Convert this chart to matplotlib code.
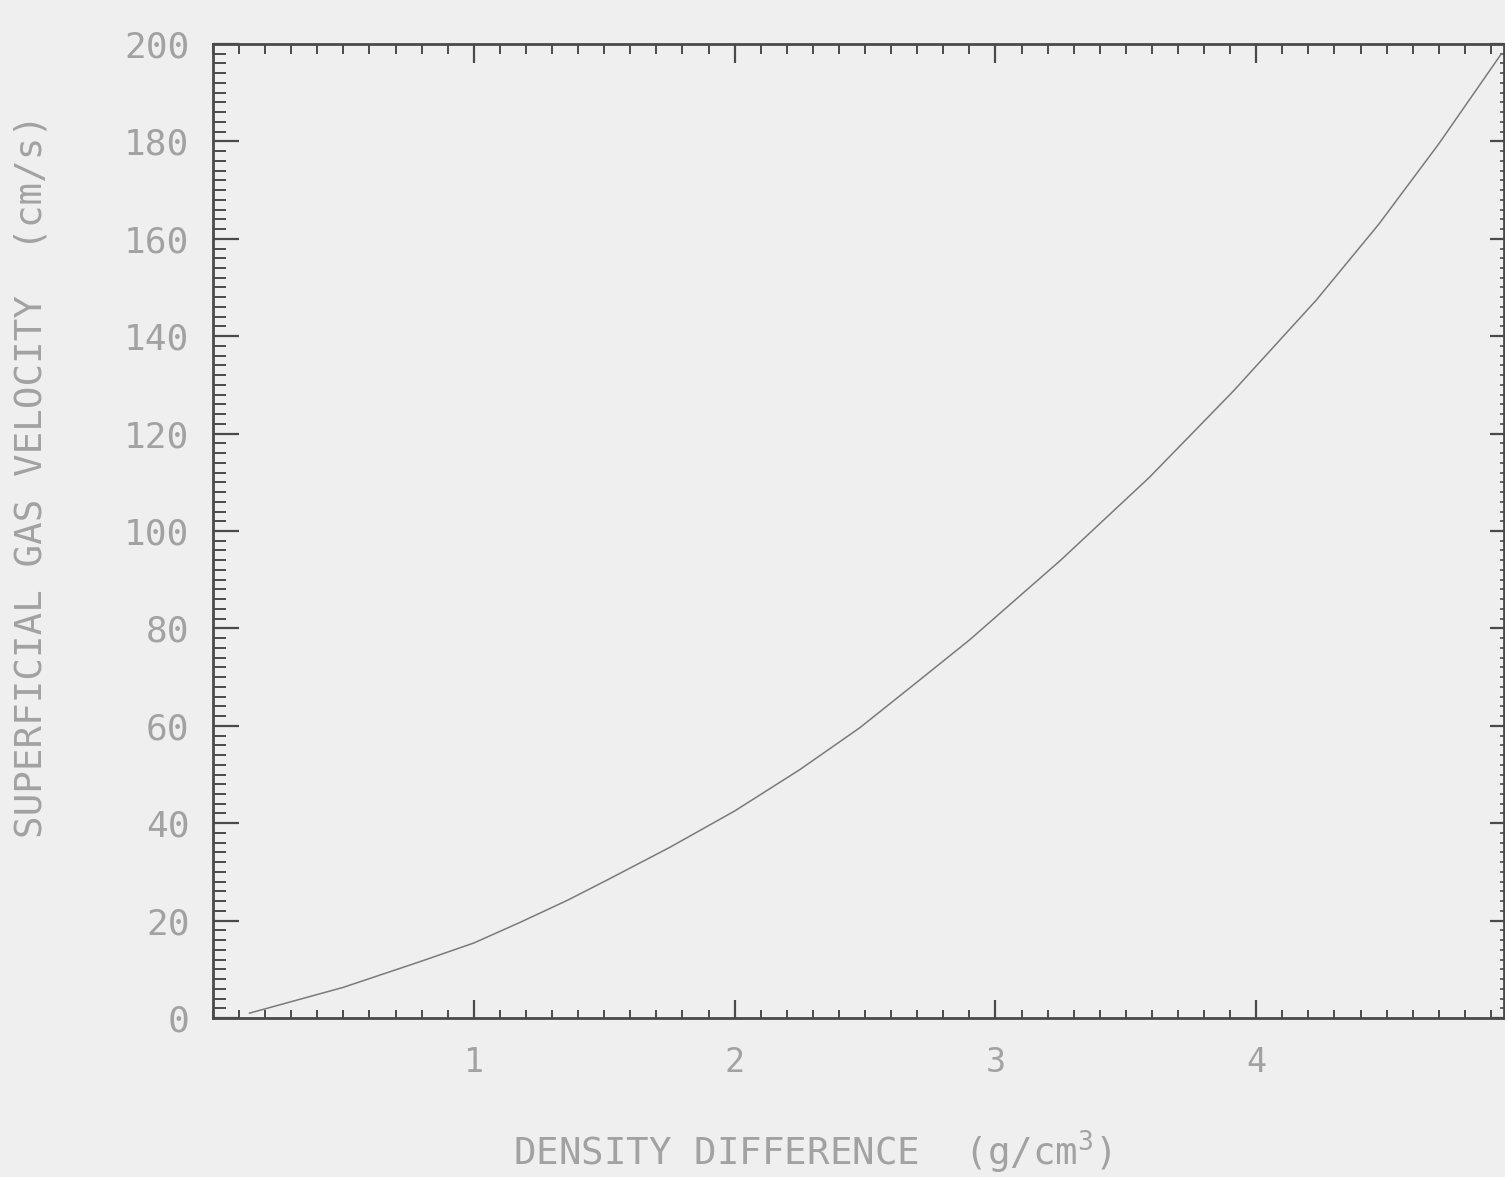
import numpy as np
import matplotlib.pyplot as plt
from matplotlib.ticker import MultipleLocator

# curve
density_diff = [0.14, 0.5, 0.79, 1.0, 1.18, 1.36, 1.51, 1.75, 2.0, 2.25, 2.48, 2.7, 2.9, 3.25,
                3.59, 3.91, 4.23, 4.47, 4.7, 4.94]
gas_velocity = [1.0, 6.3, 11.5, 15.4, 19.7, 24.2, 28.3, 35.0, 42.5, 51.0, 59.6, 69.0, 77.6, 94.0,
                111.0, 128.6, 147.4, 163.0, 179.5, 198.0]

x_ticks = [1, 2, 3, 4]
y_ticks = [0, 20, 40, 60, 80, 100, 120, 140, 160, 180, 200]

bg = '#efefef'
ink = '#4a4a4a'
txt = '#a2a2a2'

plt.rcParams['font.family'] = 'DejaVu Sans Mono'
plt.rcParams['mathtext.fontset'] = 'custom'
plt.rcParams['mathtext.rm'] = 'DejaVu Sans Mono'
plt.rcParams['mathtext.it'] = 'DejaVu Sans Mono'

fig = plt.figure(figsize=(15.05, 11.77), dpi=100, facecolor=bg)
ax = fig.add_axes([213 / 1505, 1 - 1018 / 1177, (1504 - 213) / 1505, (1018 - 44) / 1177])
ax.set_facecolor(bg)

ax.plot(density_diff, gas_velocity, color='#7a7a7a', lw=1.1)

ax.set_xlim(0, 4.95)
ax.set_ylim(0, 200)

for s in ax.spines.values():
    s.set_color(ink)
    s.set_linewidth(2.0)

ax.set_xticks(x_ticks)
ax.set_xticklabels([str(v) for v in x_ticks])
ax.xaxis.set_minor_locator(MultipleLocator(0.1))
ax.set_yticks(y_ticks)
ax.set_yticklabels([str(v) for v in y_ticks])
ax.yaxis.set_minor_locator(MultipleLocator(2))

ax.tick_params(axis='x', which='major', direction='in', length=13, width=1.6, color=ink,
               labelsize=24, labelcolor=txt, pad=20)
ax.tick_params(axis='x', which='minor', direction='in', length=5.5, width=1.4, color=ink)
ax.tick_params(axis='y', which='major', direction='in', length=19, width=1.6, color=ink,
               labelsize=26, labelcolor=txt, pad=17)
ax.tick_params(axis='y', which='minor', direction='in', length=9, width=1.4, color=ink)

# top and right ticks, shorter
top = ax.secondary_xaxis('top')
top.set_xticks(x_ticks)
top.xaxis.set_minor_locator(MultipleLocator(0.1))
top.tick_params(which='major', direction='in', length=14, width=1.6, color=ink, labeltop=False)
top.tick_params(which='minor', direction='in', length=7, width=1.4, color=ink)
top.spines['top'].set_visible(False)

right = ax.secondary_yaxis('right')
right.set_yticks(y_ticks)
right.yaxis.set_minor_locator(MultipleLocator(2))
right.tick_params(which='major', direction='in', length=10, width=1.6, color=ink, labelright=False)
right.tick_params(which='minor', direction='in', length=3, width=1.2, color=ink)
right.spines['right'].set_visible(False)

fig.text(812 / 1505, 1 - 1152 / 1177, 'DENSITY DIFFERENCE  (g/cm$^3$)', color=txt,
         fontsize=27, ha='center', va='center')
fig.text(32 / 1505, 1 - 476 / 1177, 'SUPERFICIAL GAS VELOCITY  (cm/s)', color=txt,
         fontsize=27, ha='center', va='center', rotation=90)

fig.savefig('out.png', dpi=100, facecolor=bg)
